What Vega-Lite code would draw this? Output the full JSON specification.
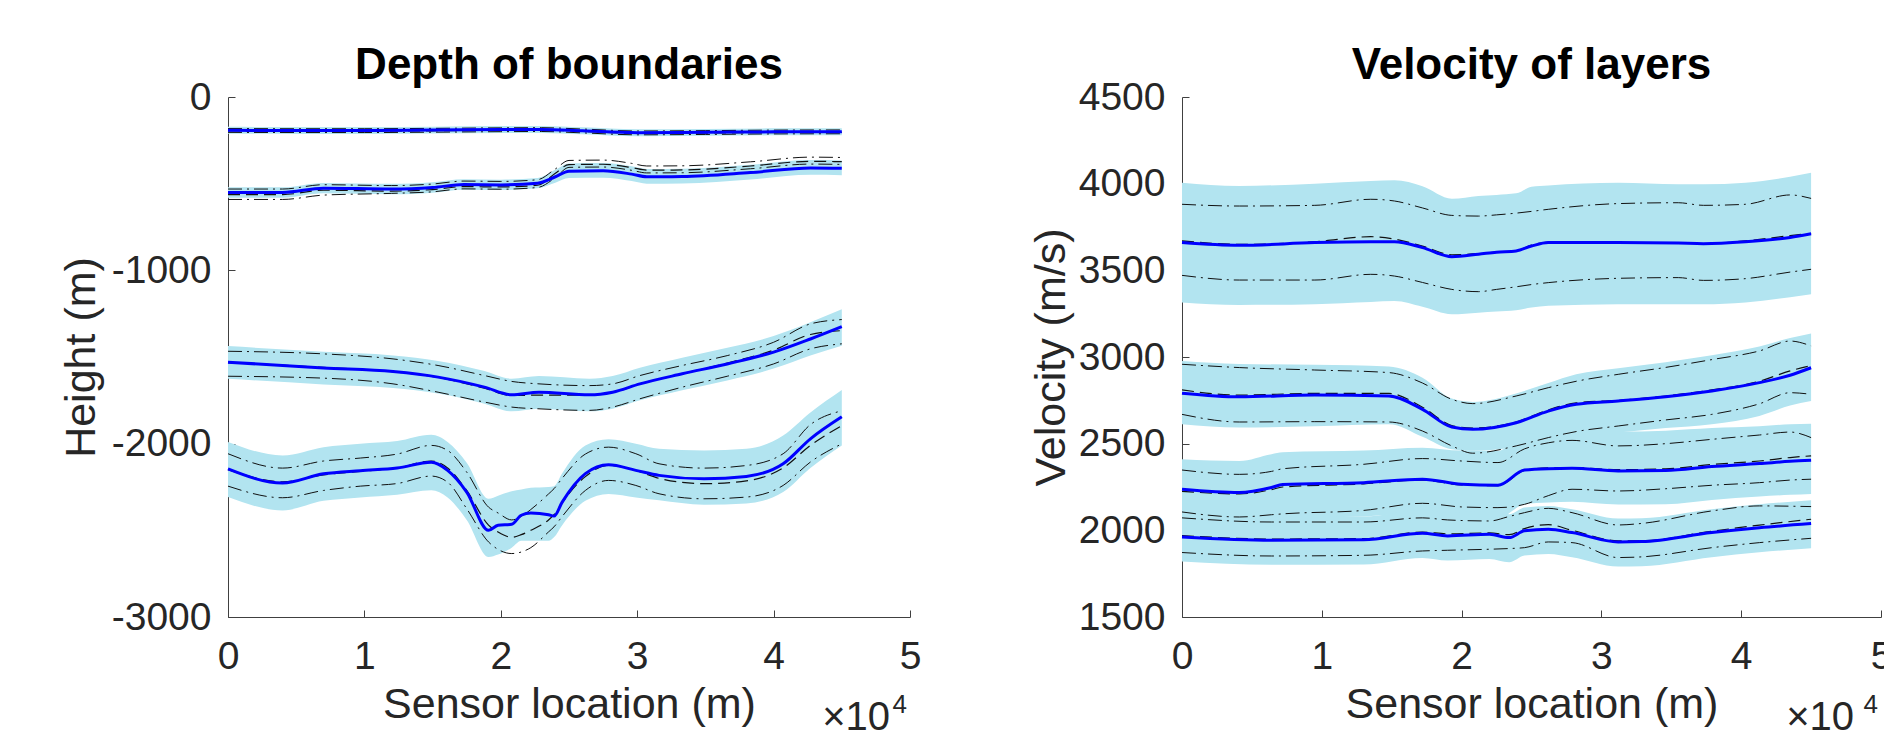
{
"$schema": "https://vega.github.io/schema/vega-lite/v6.json",
"autosize": {"type": "pad"},
"padding": {"left": 60, "top": 44, "right": 0, "bottom": 0},
"background": "white",
"spacing": 109,
"config": {
 "view": {"stroke": null},
 "font": "Liberation Sans",
 "axis": {"labelFont": "Liberation Sans", "labelFontSize": 39, "labelColor": "#262626", "titleFont": "Liberation Sans", "titleFontSize": 43, "titleFontWeight": "normal", "titleColor": "#262626", "domainColor": "#404040", "domainWidth": 1, "tickColor": "#404040", "tickSize": -7, "grid": false, "labelOverlap": false, "labelFlush": false},
 "title": {"font": "Liberation Sans", "fontSize": 44, "fontWeight": "bold", "color": "#000000", "anchor": "middle", "baseline": "alphabetic", "offset": -10}
},
"datasets": {
"L": [
{"s":"L1","x":0,"mean":-192,"dash":-196,"ddhi":-182,"ddlo":-204,"bhi":-172,"blo":-212},
{"s":"L1","x":0.5,"mean":-193,"dash":-197,"ddhi":-183,"ddlo":-205,"bhi":-173,"blo":-213},
{"s":"L1","x":1,"mean":-193,"dash":-197,"ddhi":-183,"ddlo":-205,"bhi":-173,"blo":-213},
{"s":"L1","x":1.5,"mean":-191,"dash":-195,"ddhi":-181,"ddlo":-203,"bhi":-171,"blo":-211},
{"s":"L1","x":2,"mean":-188,"dash":-192,"ddhi":-178,"ddlo":-200,"bhi":-168,"blo":-208},
{"s":"L1","x":2.3,"mean":-187,"dash":-191,"ddhi":-177,"ddlo":-199,"bhi":-167,"blo":-207},
{"s":"L1","x":2.6,"mean":-195,"dash":-199,"ddhi":-185,"ddlo":-207,"bhi":-175,"blo":-215},
{"s":"L1","x":3,"mean":-206,"dash":-210,"ddhi":-196,"ddlo":-218,"bhi":-186,"blo":-226},
{"s":"L1","x":3.5,"mean":-204,"dash":-208,"ddhi":-194,"ddlo":-216,"bhi":-184,"blo":-224},
{"s":"L1","x":4,"mean":-201,"dash":-205,"ddhi":-191,"ddlo":-213,"bhi":-181,"blo":-221},
{"s":"L1","x":4.5,"mean":-200,"dash":-204,"ddhi":-190,"ddlo":-212,"bhi":-180,"blo":-220},
{"s":"L2","x":0,"mean":-551,"dash":-563,"ddhi":-531,"ddlo":-591,"bhi":-521,"blo":-581},
{"s":"L2","x":0.4,"mean":-551,"dash":-563,"ddhi":-531,"ddlo":-591,"bhi":-521,"blo":-581},
{"s":"L2","x":0.7,"mean":-526,"dash":-538,"ddhi":-506,"ddlo":-566,"bhi":-496,"blo":-556},
{"s":"L2","x":1.2,"mean":-531,"dash":-543,"ddhi":-511,"ddlo":-556,"bhi":-501,"blo":-561},
{"s":"L2","x":1.5,"mean":-522,"dash":-534,"ddhi":-502,"ddlo":-547,"bhi":-492,"blo":-552},
{"s":"L2","x":1.73,"mean":-505,"dash":-517,"ddhi":-485,"ddlo":-530,"bhi":-475,"blo":-535},
{"s":"L2","x":2.0,"mean":-507,"dash":-519,"ddhi":-487,"ddlo":-532,"bhi":-477,"blo":-537},
{"s":"L2","x":2.27,"mean":-497,"dash":-509,"ddhi":-477,"ddlo":-522,"bhi":-467,"blo":-527},
{"s":"L2","x":2.4,"mean":-460,"dash":-440,"ddhi":-415,"ddlo":-465,"bhi":-420,"blo":-495},
{"s":"L2","x":2.5,"mean":-428,"dash":-390,"ddhi":-366,"ddlo":-406,"bhi":-383,"blo":-468},
{"s":"L2","x":2.75,"mean":-426,"dash":-388,"ddhi":-364,"ddlo":-404,"bhi":-381,"blo":-466},
{"s":"L2","x":2.96,"mean":-445,"dash":-407,"ddhi":-383,"ddlo":-423,"bhi":-400,"blo":-485},
{"s":"L2","x":3.07,"mean":-460,"dash":-422,"ddhi":-398,"ddlo":-438,"bhi":-415,"blo":-500},
{"s":"L2","x":3.33,"mean":-459,"dash":-421,"ddhi":-397,"ddlo":-437,"bhi":-414,"blo":-499},
{"s":"L2","x":3.83,"mean":-436,"dash":-398,"ddhi":-374,"ddlo":-414,"bhi":-391,"blo":-476},
{"s":"L2","x":4.27,"mean":-409,"dash":-371,"ddhi":-347,"ddlo":-387,"bhi":-364,"blo":-449},
{"s":"L2","x":4.5,"mean":-411,"dash":-373,"ddhi":-349,"ddlo":-389,"bhi":-366,"blo":-451},
{"s":"L3","x":0,"mean":-1530,"dash":-1532,"ddhi":-1467,"ddlo":-1611,"bhi":-1437,"blo":-1625},
{"s":"L3","x":0.7,"mean":-1563,"dash":-1560,"ddhi":-1482,"ddlo":-1622,"bhi":-1470,"blo":-1658},
{"s":"L3","x":1.21,"mean":-1584,"dash":-1585,"ddhi":-1511,"ddlo":-1655,"bhi":-1491,"blo":-1679},
{"s":"L3","x":1.54,"mean":-1616,"dash":-1618,"ddhi":-1549,"ddlo":-1703,"bhi":-1523,"blo":-1711},
{"s":"L3","x":1.88,"mean":-1674,"dash":-1680,"ddhi":-1607,"ddlo":-1760,"bhi":-1581,"blo":-1769},
{"s":"L3","x":2.08,"mean":-1718,"dash":-1722,"ddhi":-1641,"ddlo":-1789,"bhi":-1625,"blo":-1813},
{"s":"L3","x":2.28,"mean":-1703,"dash":-1720,"ddhi":-1655,"ddlo":-1799,"bhi":-1610,"blo":-1798},
{"s":"L3","x":2.65,"mean":-1718,"dash":-1720,"ddhi":-1665,"ddlo":-1808,"bhi":-1625,"blo":-1813},
{"s":"L3","x":2.82,"mean":-1703,"dash":-1705,"ddhi":-1655,"ddlo":-1789,"bhi":-1610,"blo":-1798},
{"s":"L3","x":3.02,"mean":-1655,"dash":-1655,"ddhi":-1607,"ddlo":-1741,"bhi":-1562,"blo":-1750},
{"s":"L3","x":3.33,"mean":-1597,"dash":-1597,"ddhi":-1549,"ddlo":-1674,"bhi":-1504,"blo":-1692},
{"s":"L3","x":3.66,"mean":-1540,"dash":-1535,"ddhi":-1492,"ddlo":-1611,"bhi":-1447,"blo":-1635},
{"s":"L3","x":4.0,"mean":-1472,"dash":-1460,"ddhi":-1415,"ddlo":-1540,"bhi":-1379,"blo":-1567},
{"s":"L3","x":4.27,"mean":-1396,"dash":-1370,"ddhi":-1309,"ddlo":-1453,"bhi":-1300,"blo":-1491},
{"s":"L3","x":4.5,"mean":-1325,"dash":-1348,"ddhi":-1284,"ddlo":-1424,"bhi":-1225,"blo":-1435},
{"s":"L4","x":0,"mean":-2145,"dash":-2150,"ddhi":-2058,"ddlo":-2245,"bhi":-1990,"blo":-2308},
{"s":"L4","x":0.4,"mean":-2227,"dash":-2220,"ddhi":-2141,"ddlo":-2312,"bhi":-2068,"blo":-2385},
{"s":"L4","x":0.7,"mean":-2174,"dash":-2180,"ddhi":-2100,"ddlo":-2270,"bhi":-2020,"blo":-2330},
{"s":"L4","x":0.97,"mean":-2156,"dash":-2160,"ddhi":-2083,"ddlo":-2245,"bhi":-2000,"blo":-2310},
{"s":"L4","x":1.24,"mean":-2141,"dash":-2140,"ddhi":-2060,"ddlo":-2230,"bhi":-1985,"blo":-2295},
{"s":"L4","x":1.49,"mean":-2107,"dash":-2100,"ddhi":-2010,"ddlo":-2187,"bhi":-1949,"blo":-2269},
{"s":"L4","x":1.61,"mean":-2154,"dash":-2140,"ddhi":-2039,"ddlo":-2222,"bhi":-1990,"blo":-2310},
{"s":"L4","x":1.75,"mean":-2279,"dash":-2270,"ddhi":-2164,"ddlo":-2375,"bhi":-2110,"blo":-2440},
{"s":"L4","x":1.91,"mean":-2500,"dash":-2470,"ddhi":-2366,"ddlo":-2567,"bhi":-2318,"blo":-2654},
{"s":"L4","x":1.98,"mean":-2471,"dash":-2510,"ddhi":-2400,"ddlo":-2610,"bhi":-2300,"blo":-2640},
{"s":"L4","x":2.08,"mean":-2465,"dash":-2540,"ddhi":-2440,"ddlo":-2634,"bhi":-2275,"blo":-2600},
{"s":"L4","x":2.15,"mean":-2413,"dash":-2525,"ddhi":-2420,"ddlo":-2625,"bhi":-2265,"blo":-2560},
{"s":"L4","x":2.22,"mean":-2400,"dash":-2500,"ddhi":-2380,"ddlo":-2600,"bhi":-2255,"blo":-2560},
{"s":"L4","x":2.35,"mean":-2410,"dash":-2440,"ddhi":-2290,"ddlo":-2509,"bhi":-2250,"blo":-2560},
{"s":"L4","x":2.39,"mean":-2418,"dash":-2410,"ddhi":-2260,"ddlo":-2480,"bhi":-2245,"blo":-2540},
{"s":"L4","x":2.45,"mean":-2337,"dash":-2340,"ddhi":-2200,"ddlo":-2420,"bhi":-2170,"blo":-2470},
{"s":"L4","x":2.62,"mean":-2173,"dash":-2190,"ddhi":-2060,"ddlo":-2270,"bhi":-2010,"blo":-2330},
{"s":"L4","x":2.79,"mean":-2122,"dash":-2125,"ddhi":-2020,"ddlo":-2212,"bhi":-1975,"blo":-2290},
{"s":"L4","x":2.99,"mean":-2154,"dash":-2155,"ddhi":-2058,"ddlo":-2241,"bhi":-2000,"blo":-2310},
{"s":"L4","x":3.16,"mean":-2183,"dash":-2200,"ddhi":-2116,"ddlo":-2289,"bhi":-2030,"blo":-2327},
{"s":"L4","x":3.49,"mean":-2203,"dash":-2231,"ddhi":-2141,"ddlo":-2318,"bhi":-2039,"blo":-2352},
{"s":"L4","x":3.8,"mean":-2189,"dash":-2215,"ddhi":-2126,"ddlo":-2308,"bhi":-2030,"blo":-2345},
{"s":"L4","x":4.07,"mean":-2116,"dash":-2140,"ddhi":-2058,"ddlo":-2241,"bhi":-1953,"blo":-2279},
{"s":"L4","x":4.27,"mean":-1972,"dash":-2010,"ddhi":-1890,"ddlo":-2106,"bhi":-1820,"blo":-2140},
{"s":"L4","x":4.5,"mean":-1845,"dash":-1896,"ddhi":-1810,"ddlo":-2001,"bhi":-1690,"blo":-2010}
],
"R": [
{"s":"R1","x":0,"mean":3660,"dash":3670,"ddhi":3881,"ddlo":3471,"bhi":4006,"blo":3314},
{"s":"R1","x":0.41,"mean":3644,"dash":3650,"ddhi":3871,"ddlo":3444,"bhi":3987,"blo":3300},
{"s":"R1","x":0.95,"mean":3660,"dash":3665,"ddhi":3875,"ddlo":3444,"bhi":4000,"blo":3305},
{"s":"R1","x":1.35,"mean":3665,"dash":3694,"ddhi":3910,"ddlo":3477,"bhi":4015,"blo":3318},
{"s":"R1","x":1.52,"mean":3665,"dash":3680,"ddhi":3900,"ddlo":3467,"bhi":4019,"blo":3323},
{"s":"R1","x":1.72,"mean":3631,"dash":3640,"ddhi":3860,"ddlo":3430,"bhi":3985,"blo":3290},
{"s":"R1","x":1.93,"mean":3579,"dash":3590,"ddhi":3817,"ddlo":3390,"bhi":3913,"blo":3247},
{"s":"R1","x":2.12,"mean":3593,"dash":3596,"ddhi":3813,"ddlo":3377,"bhi":3929,"blo":3256},
{"s":"R1","x":2.25,"mean":3605,"dash":3605,"ddhi":3820,"ddlo":3390,"bhi":3935,"blo":3262},
{"s":"R1","x":2.39,"mean":3612,"dash":3612,"ddhi":3830,"ddlo":3405,"bhi":3944,"blo":3270},
{"s":"R1","x":2.5,"mean":3640,"dash":3645,"ddhi":3840,"ddlo":3418,"bhi":3982,"blo":3285},
{"s":"R1","x":2.62,"mean":3660,"dash":3662,"ddhi":3852,"ddlo":3429,"bhi":3990,"blo":3295},
{"s":"R1","x":3.12,"mean":3660,"dash":3660,"ddhi":3885,"ddlo":3454,"bhi":4005,"blo":3304},
{"s":"R1","x":3.55,"mean":3657,"dash":3657,"ddhi":3890,"ddlo":3458,"bhi":3996,"blo":3304},
{"s":"R1","x":3.73,"mean":3654,"dash":3654,"ddhi":3875,"ddlo":3442,"bhi":3996,"blo":3304},
{"s":"R1","x":4.03,"mean":3665,"dash":3670,"ddhi":3881,"ddlo":3452,"bhi":4005,"blo":3315},
{"s":"R1","x":4.35,"mean":3690,"dash":3700,"ddhi":3935,"ddlo":3490,"bhi":4040,"blo":3345},
{"s":"R1","x":4.5,"mean":3711,"dash":3713,"ddhi":3915,"ddlo":3506,"bhi":4063,"blo":3362},
{"s":"R2","x":0,"mean":2791,"dash":2810,"ddhi":2958,"ddlo":2669,"bhi":2977,"blo":2612},
{"s":"R2","x":0.41,"mean":2770,"dash":2780,"ddhi":2939,"ddlo":2625,"bhi":2960,"blo":2593},
{"s":"R2","x":0.95,"mean":2781,"dash":2790,"ddhi":2925,"ddlo":2627,"bhi":2955,"blo":2600},
{"s":"R2","x":1.48,"mean":2775,"dash":2790,"ddhi":2910,"ddlo":2625,"bhi":2945,"blo":2612},
{"s":"R2","x":1.72,"mean":2698,"dash":2710,"ddhi":2850,"ddlo":2573,"bhi":2880,"blo":2540},
{"s":"R2","x":1.93,"mean":2596,"dash":2605,"ddhi":2756,"ddlo":2487,"bhi":2760,"blo":2468},
{"s":"R2","x":2.08,"mean":2583,"dash":2590,"ddhi":2731,"ddlo":2445,"bhi":2741,"blo":2459},
{"s":"R2","x":2.39,"mean":2621,"dash":2625,"ddhi":2775,"ddlo":2487,"bhi":2790,"blo":2480},
{"s":"R2","x":2.62,"mean":2688,"dash":2695,"ddhi":2823,"ddlo":2535,"bhi":2850,"blo":2506},
{"s":"R2","x":2.82,"mean":2727,"dash":2735,"ddhi":2860,"ddlo":2570,"bhi":2900,"blo":2540},
{"s":"R2","x":3.12,"mean":2746,"dash":2750,"ddhi":2900,"ddlo":2602,"bhi":2935,"blo":2564},
{"s":"R2","x":3.46,"mean":2771,"dash":2775,"ddhi":2940,"ddlo":2637,"bhi":2970,"blo":2590},
{"s":"R2","x":3.79,"mean":2804,"dash":2810,"ddhi":2985,"ddlo":2669,"bhi":3010,"blo":2612},
{"s":"R2","x":4.13,"mean":2852,"dash":2860,"ddhi":3035,"ddlo":2730,"bhi":3060,"blo":2660},
{"s":"R2","x":4.35,"mean":2895,"dash":2920,"ddhi":3092,"ddlo":2794,"bhi":3110,"blo":2720},
{"s":"R2","x":4.5,"mean":2938,"dash":2950,"ddhi":3064,"ddlo":2785,"bhi":3136,"blo":2746},
{"s":"R3","x":0,"mean":2237,"dash":2225,"ddhi":2348,"ddlo":2106,"bhi":2410,"blo":2045},
{"s":"R3","x":0.41,"mean":2218,"dash":2210,"ddhi":2323,"ddlo":2077,"bhi":2400,"blo":2030},
{"s":"R3","x":0.64,"mean":2247,"dash":2235,"ddhi":2340,"ddlo":2090,"bhi":2439,"blo":2055},
{"s":"R3","x":0.72,"mean":2264,"dash":2250,"ddhi":2355,"ddlo":2095,"bhi":2450,"blo":2070},
{"s":"R3","x":1.3,"mean":2275,"dash":2268,"ddhi":2381,"ddlo":2115,"bhi":2460,"blo":2080},
{"s":"R3","x":1.72,"mean":2295,"dash":2290,"ddhi":2414,"ddlo":2156,"bhi":2477,"blo":2100},
{"s":"R3","x":2.0,"mean":2266,"dash":2262,"ddhi":2400,"ddlo":2135,"bhi":2460,"blo":2075},
{"s":"R3","x":2.26,"mean":2260,"dash":2258,"ddhi":2391,"ddlo":2131,"bhi":2458,"blo":2070},
{"s":"R3","x":2.45,"mean":2348,"dash":2345,"ddhi":2470,"ddlo":2150,"bhi":2554,"blo":2150},
{"s":"R3","x":2.62,"mean":2356,"dash":2360,"ddhi":2505,"ddlo":2200,"bhi":2565,"blo":2160},
{"s":"R3","x":2.79,"mean":2358,"dash":2362,"ddhi":2519,"ddlo":2237,"bhi":2570,"blo":2165},
{"s":"R3","x":3.12,"mean":2343,"dash":2350,"ddhi":2487,"ddlo":2227,"bhi":2570,"blo":2149},
{"s":"R3","x":3.46,"mean":2345,"dash":2355,"ddhi":2500,"ddlo":2240,"bhi":2575,"blo":2150},
{"s":"R3","x":3.79,"mean":2368,"dash":2380,"ddhi":2525,"ddlo":2260,"bhi":2590,"blo":2175},
{"s":"R3","x":4.13,"mean":2385,"dash":2400,"ddhi":2550,"ddlo":2275,"bhi":2600,"blo":2195},
{"s":"R3","x":4.35,"mean":2398,"dash":2420,"ddhi":2567,"ddlo":2290,"bhi":2612,"blo":2205},
{"s":"R3","x":4.5,"mean":2404,"dash":2430,"ddhi":2535,"ddlo":2295,"bhi":2615,"blo":2210},
{"s":"R4","x":0,"mean":1962,"dash":1970,"ddhi":2072,"ddlo":1872,"bhi":2097,"blo":1820},
{"s":"R4","x":0.64,"mean":1943,"dash":1950,"ddhi":2048,"ddlo":1852,"bhi":2078,"blo":1801},
{"s":"R4","x":1.3,"mean":1945,"dash":1952,"ddhi":2048,"ddlo":1856,"bhi":2080,"blo":1803},
{"s":"R4","x":1.72,"mean":1983,"dash":1990,"ddhi":2072,"ddlo":1881,"bhi":2118,"blo":1841},
{"s":"R4","x":1.9,"mean":1968,"dash":1980,"ddhi":2060,"ddlo":1885,"bhi":2103,"blo":1826},
{"s":"R4","x":2.2,"mean":1977,"dash":1985,"ddhi":2054,"ddlo":1891,"bhi":2112,"blo":1835},
{"s":"R4","x":2.34,"mean":1958,"dash":1975,"ddhi":2080,"ddlo":1895,"bhi":2093,"blo":1816},
{"s":"R4","x":2.45,"mean":1997,"dash":2010,"ddhi":2102,"ddlo":1900,"bhi":2132,"blo":1855},
{"s":"R4","x":2.62,"mean":2006,"dash":2033,"ddhi":2127,"ddlo":1933,"bhi":2141,"blo":1864},
{"s":"R4","x":2.79,"mean":1987,"dash":2000,"ddhi":2102,"ddlo":1929,"bhi":2122,"blo":1845},
{"s":"R4","x":3.12,"mean":1933,"dash":1940,"ddhi":2031,"ddlo":1843,"bhi":2068,"blo":1791},
{"s":"R4","x":3.29,"mean":1935,"dash":1940,"ddhi":2040,"ddlo":1847,"bhi":2070,"blo":1793},
{"s":"R4","x":3.79,"mean":1987,"dash":1995,"ddhi":2112,"ddlo":1900,"bhi":2122,"blo":1845},
{"s":"R4","x":4.13,"mean":2015,"dash":2030,"ddhi":2141,"ddlo":1929,"bhi":2150,"blo":1873},
{"s":"R4","x":4.5,"mean":2039,"dash":2064,"ddhi":2137,"ddlo":1954,"bhi":2174,"blo":1897}
],
"N": [{"label": "×10", "sup": "4"}]
},
"hconcat": [
{
 "width": 682, "height": 520,
 "title": {"text": "Depth of boundaries"},
 "layer": [
  {"data": {"name": "L"}, "mark": {"type": "area", "color": "#b2e4f0", "interpolate": "monotone", "opacity": 1}, "encoding": {"x": {"field": "x", "type": "quantitative", "scale": {"domain": [0, 5], "nice": false, "zero": false}, "axis": {"values": [0,1,2,3,4,5], "title": "Sensor location (m)", "labelExpr": "'' + datum.value", "labelPadding": 27, "titlePadding": 7}}, "y": {"field": "blo", "type": "quantitative", "scale": {"domain": [-3000, 0], "nice": false, "zero": false}, "axis": {"values": [-3000,-2000,-1000,0], "title": "Height (m)", "labelExpr": "'' + datum.value", "labelPadding": 24, "titlePadding": 8}}, "y2": {"field": "bhi"}, "detail": {"field": "s"}}},
  {"data": {"name": "L"}, "mark": {"type": "line", "color": "#111111", "strokeWidth": 1, "strokeDash": [14, 5, 2, 5], "interpolate": "monotone"}, "encoding": {"x": {"field": "x", "type": "quantitative"}, "y": {"field": "ddhi", "type": "quantitative"}, "detail": {"field": "s"}}},
  {"data": {"name": "L"}, "mark": {"type": "line", "color": "#111111", "strokeWidth": 1, "strokeDash": [14, 5, 2, 5], "interpolate": "monotone"}, "encoding": {"x": {"field": "x", "type": "quantitative"}, "y": {"field": "ddlo", "type": "quantitative"}, "detail": {"field": "s"}}},
  {"data": {"name": "L"}, "mark": {"type": "line", "color": "#111111", "strokeWidth": 1.2, "strokeDash": [12, 6], "interpolate": "monotone"}, "encoding": {"x": {"field": "x", "type": "quantitative"}, "y": {"field": "dash", "type": "quantitative"}, "detail": {"field": "s"}}},
  {"data": {"name": "L"}, "mark": {"type": "line", "color": "#0000ff", "strokeWidth": 3, "interpolate": "monotone"}, "encoding": {"x": {"field": "x", "type": "quantitative"}, "y": {"field": "mean", "type": "quantitative"}, "detail": {"field": "s"}}},
  {"data": {"name": "N"}, "mark": {"type": "text", "clip": false, "font": "Liberation Sans", "fontSize": 40, "color": "#262626", "align": "right", "baseline": "alphabetic", "dx": -20, "dy": 113}, "encoding": {"x": {"datum": 5, "type": "quantitative"}, "y": {"datum": -3000, "type": "quantitative"}, "text": {"field": "label"}}},
  {"data": {"name": "N"}, "mark": {"type": "text", "clip": false, "font": "Liberation Sans", "fontSize": 26, "color": "#262626", "align": "right", "baseline": "alphabetic", "dx": -3, "dy": 96}, "encoding": {"x": {"datum": 5, "type": "quantitative"}, "y": {"datum": -3000, "type": "quantitative"}, "text": {"field": "sup"}}}
 ]
},
{
 "width": 699, "height": 520,
 "title": {"text": "Velocity of layers"},
 "layer": [
  {"data": {"name": "R"}, "mark": {"type": "area", "color": "#b2e4f0", "interpolate": "monotone", "opacity": 1}, "encoding": {"x": {"field": "x", "type": "quantitative", "scale": {"domain": [0, 5], "nice": false, "zero": false}, "axis": {"values": [0,1,2,3,4,5], "title": "Sensor location (m)", "labelExpr": "'' + datum.value", "labelPadding": 27, "titlePadding": 7}}, "y": {"field": "blo", "type": "quantitative", "scale": {"domain": [1500, 4500], "nice": false, "zero": false}, "axis": {"values": [1500,2000,2500,3000,3500,4000,4500], "title": "Velocity (m/s)", "labelExpr": "'' + datum.value", "labelPadding": 24, "titlePadding": 5}}, "y2": {"field": "bhi"}, "detail": {"field": "s"}}},
  {"data": {"name": "R"}, "mark": {"type": "line", "color": "#111111", "strokeWidth": 1, "strokeDash": [14, 5, 2, 5], "interpolate": "monotone"}, "encoding": {"x": {"field": "x", "type": "quantitative"}, "y": {"field": "ddhi", "type": "quantitative"}, "detail": {"field": "s"}}},
  {"data": {"name": "R"}, "mark": {"type": "line", "color": "#111111", "strokeWidth": 1, "strokeDash": [14, 5, 2, 5], "interpolate": "monotone"}, "encoding": {"x": {"field": "x", "type": "quantitative"}, "y": {"field": "ddlo", "type": "quantitative"}, "detail": {"field": "s"}}},
  {"data": {"name": "R"}, "mark": {"type": "line", "color": "#111111", "strokeWidth": 1.2, "strokeDash": [12, 6], "interpolate": "monotone"}, "encoding": {"x": {"field": "x", "type": "quantitative"}, "y": {"field": "dash", "type": "quantitative"}, "detail": {"field": "s"}}},
  {"data": {"name": "R"}, "mark": {"type": "line", "color": "#0000ff", "strokeWidth": 3, "interpolate": "monotone"}, "encoding": {"x": {"field": "x", "type": "quantitative"}, "y": {"field": "mean", "type": "quantitative"}, "detail": {"field": "s"}}},
  {"data": {"name": "N"}, "mark": {"type": "text", "clip": false, "font": "Liberation Sans", "fontSize": 40, "color": "#262626", "align": "right", "baseline": "alphabetic", "dx": -27, "dy": 113}, "encoding": {"x": {"datum": 5, "type": "quantitative"}, "y": {"datum": 1500, "type": "quantitative"}, "text": {"field": "label"}}},
  {"data": {"name": "N"}, "mark": {"type": "text", "clip": false, "font": "Liberation Sans", "fontSize": 26, "color": "#262626", "align": "right", "baseline": "alphabetic", "dx": -3, "dy": 96}, "encoding": {"x": {"datum": 5, "type": "quantitative"}, "y": {"datum": 1500, "type": "quantitative"}, "text": {"field": "sup"}}}
 ]
}
]
}
